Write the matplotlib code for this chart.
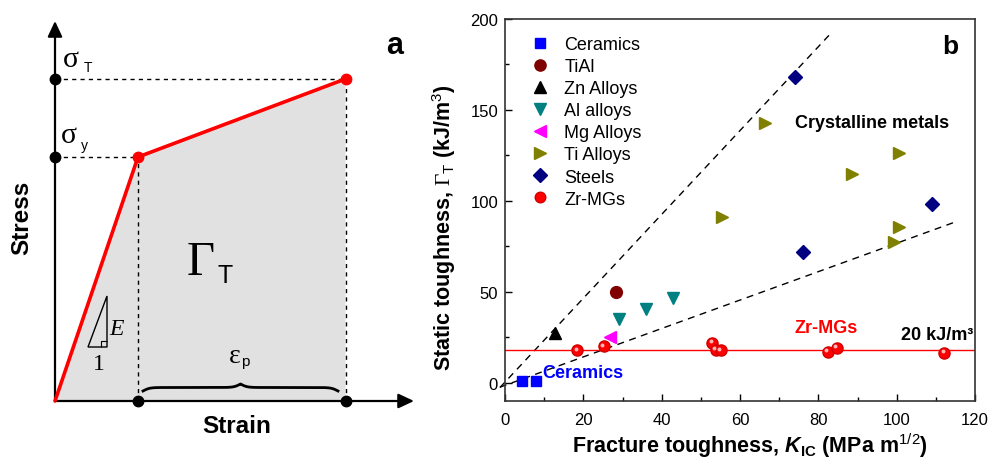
import numpy as np
import matplotlib
matplotlib.use('Agg')
import matplotlib.pyplot as plt
import matplotlib.transforms as mtransforms
from matplotlib.patches import Polygon

plt.rcParams['font.family'] = ['Liberation Sans', 'DejaVu Sans']
plt.rcParams['mathtext.fontset'] = 'custom'
plt.rcParams['mathtext.rm'] = 'Liberation Serif'
plt.rcParams['mathtext.it'] = 'Liberation Sans:italic:bold'
plt.rcParams['mathtext.bf'] = 'Liberation Sans:bold'
plt.rcParams['mathtext.sf'] = 'Liberation Sans'

# ---------------- Panel a: schematic stress-strain curve ----------------
strain = [0.0, 1.0, 3.5]
stress = [0.0, 1.0, 1.32]

# ---------------- Panel b data ----------------
ceramics_k = [4.3, 7.8]
ceramics_g = [1.0, 1.0]
tial_k = [28.3]
tial_g = [50.0]
zn_k = [12.8]
zn_g = [27.5]
al_k = [29.1, 36.0, 43.0]
al_g = [35.2, 40.7, 46.5]
mg_k = [26.8]
mg_g = [25.1]
ti_k = [55.3, 66.4, 88.5, 100.6, 100.6, 99.3]
ti_g = [91.0, 143.0, 115.0, 126.5, 85.5, 77.5]
steel_k = [74.0, 76.0, 109.1]
steel_g = [168.0, 71.8, 98.4]
zr_k = [18.5, 25.3, 52.9, 53.9, 55.1, 82.5, 84.7, 112.2]
zr_g = [17.8, 20.0, 21.8, 18.1, 17.8, 17.2, 19.2, 16.5]
zr_level = 18.3
upper_k = [-1.3, 83.4]
upper_g = [-2.6, 192.6]
lower_k = [-1.3, 115.7]
lower_g = [-2.4, 89.0]
x_ticks = [0, 20, 40, 60, 80, 100, 120]
y_ticks = [0, 50, 100, 150, 200]

W, H = 992, 464
fig = plt.figure(figsize=(W / 100, H / 100), dpi=100)

# ---- left schematic axes (pixel-like helper mapping) ----
X0, Y0, SX, SY = 55.0, 402.0, 83.0, 244.0
def px(x):
    return (x - X0) / SX
def py(y):
    return (Y0 - y) / SY

axa = fig.add_axes([0, 0, 420 / W, 1])
axa.set_xlim(px(0), px(420))
axa.set_ylim(py(464), py(0))
axa.axis('off')

# gray area
poly = Polygon([[strain[0], stress[0]], [strain[1], stress[1]], [strain[2], stress[2]], [strain[2], 0]],
               closed=True, facecolor='#e1e1e1', edgecolor='none', zorder=1)
axa.add_patch(poly)

# dashed guide lines
dkw = dict(color='black', lw=1.0, ls=(0, (3, 3)), zorder=2)
axa.plot([0, strain[2]], [stress[2], stress[2]], **dkw)
axa.plot([0, strain[1]], [stress[1], stress[1]], **dkw)
axa.plot([strain[1], strain[1]], [0, stress[1]], **dkw)
axa.plot([strain[2], strain[2]], [0, stress[2]], **dkw)

# axes arrows
akw = dict(arrowstyle='-|>,head_length=0.47,head_width=0.22', mutation_scale=20, lw=1.6,
           color='black', shrinkA=0, shrinkB=0)
axa.annotate('', xy=(px(414), 0), xytext=(0, 0), arrowprops=akw, zorder=3)
axa.annotate('', xy=(0, py(22)), xytext=(0, 0), arrowprops=akw, zorder=3)

# red curve
axa.plot(strain, stress, color='#ff0000', lw=2.6, zorder=4, solid_capstyle='round')
axa.plot(strain[1:], stress[1:], 'o', color='#ff0000', ms=7.5, zorder=5)
# black dots
axa.plot([0, 0, strain[1], strain[2]], [stress[2], stress[1], 0, 0], 'o', color='black', ms=7.5,
         zorder=6, clip_on=False)

# symbols
axa.text(px(63), py(67), 'σ', family='Liberation Serif', fontsize=21.5, va='baseline', ha='left')
axa.text(px(83.5), py(72), 'T', fontsize=10, va='baseline', ha='left')
axa.text(px(61), py(143), 'σ', family='Liberation Serif', fontsize=21.5, va='baseline', ha='left')
axa.text(px(81), py(150), 'y', fontsize=10, va='baseline', ha='left')
axa.text(px(187), py(275), 'Γ', family='Liberation Serif', fontsize=35, va='baseline', ha='left')
axa.text(px(218), py(283), 'T', fontsize=18, va='baseline', ha='left')
axa.text(px(229), py(363), 'ε', family='Liberation Serif', fontsize=20, va='baseline', ha='left')
axa.text(px(241.5), py(366), 'p', fontsize=11, va='baseline', ha='left')
axa.text(px(109), py(335), 'E', family='Liberation Serif', style='italic', fontsize=17,
         va='baseline', ha='left')
axa.text(px(98.5), py(370), '1', family='Liberation Serif', fontsize=17, va='baseline', ha='center')

# slope triangle
tri = Polygon([[px(88), py(348)], [px(107), py(348)], [px(107), py(297)]], closed=True,
              fill=False, edgecolor='black', lw=1.0, zorder=6)
axa.add_patch(tri)
sq = Polygon([[px(100.5), py(348)], [px(100.5), py(341.5)], [px(107), py(341.5)]], closed=False,
             fill=False, edgecolor='black', lw=0.8, zorder=6)
axa.add_patch(sq)

# curly brace
def brace_curve(x0, x1, ybase, height, n=401):
    t = np.linspace(0, 1, n)
    half = t[: n // 2 + 1]
    beta = 60.0
    yh = 1 / (1 + np.exp(-beta * (half - half[0]))) + 1 / (1 + np.exp(-beta * (half - half[-1])))
    yy = np.concatenate((yh, yh[-2::-1]))
    xs = x0 + t * (x1 - x0)
    return xs, ybase + (yy - 0.5) * height
bx, by = brace_curve(px(143), px(338), py(392), py(385) - py(392))
axa.plot(bx, by, color='black', lw=2.0, zorder=6)

axa.text(px(22), py(218), 'Stress', rotation=90, fontsize=17.5, fontweight='bold',
         ha='center', va='center')
axa.text(px(237), py(427), 'Strain', fontsize=17.5, fontweight='bold', ha='center', va='center')
axa.text(px(395), py(46), 'a', fontsize=22, fontweight='bold', ha='center', va='center')

# ---------------- Panel b ----------------
ax = fig.add_axes([505 / W, 1 - 402 / H, 470 / W, 382 / H])
ax.set_xlim(0, 120)
ax.set_ylim(-10, 200)
ax.set_xticks(x_ticks)
ax.set_yticks(y_ticks)
ax.set_xticks(np.arange(0, 121, 10), minor=True)
ax.set_yticks(np.arange(0, 201, 25), minor=True)
ax.tick_params(which='both', direction='in', top=False, right=False, labelsize=12, width=1.0)
ax.tick_params(which='major', length=5)
ax.tick_params(which='minor', length=3)
ax.tick_params(axis='x', pad=8)
ax.tick_params(axis='y', pad=5)
for s in ax.spines.values():
    s.set_linewidth(1.2)
    s.set_color('#333333')

ax.plot(upper_k, upper_g, color='black', lw=1.0, ls=(0, (5, 4)), clip_on=False, zorder=2)
ax.plot(lower_k, lower_g, color='black', lw=1.0, ls=(0, (5, 4)), clip_on=False, zorder=2)
ax.axhline(zr_level, color='#ff0000', lw=1.0, zorder=2)

h1, = ax.plot(ceramics_k, ceramics_g, 's', color='#0000ff', ms=7.5, ls='none', label='Ceramics',
              clip_on=False, zorder=4)
h2, = ax.plot(tial_k, tial_g, 'o', color='#800000', ms=8.5, ls='none', label='TiAl', zorder=4)
h3, = ax.plot(zn_k, zn_g, '^', color='black', ms=9, ls='none', label='Zn Alloys', zorder=4)
h4, = ax.plot(al_k, al_g, 'v', color='#008080', ms=9, ls='none', label='Al alloys', zorder=4)
h5, = ax.plot(mg_k, mg_g, '<', color='#ff00ff', ms=9, ls='none', label='Mg Alloys', zorder=4)
h6, = ax.plot(ti_k, ti_g, '>', color='#808000', ms=9, ls='none', label='Ti Alloys', zorder=4)
h7, = ax.plot(steel_k, steel_g, 'D', color='#000080', ms=7, ls='none', label='Steels', zorder=4)
h8, = ax.plot(zr_k, zr_g, 'o', color='#ff0000', mec='#d00000', ms=8, ls='none', label='Zr-MGs',
              zorder=5)
hl_tr = mtransforms.offset_copy(ax.transData, fig=fig, x=-1.2, y=1.2, units='points')
ax.plot(zr_k, zr_g, 'o', color='#ffb8b8', ms=2.8, mew=0, ls='none', transform=hl_tr, zorder=6)

leg = ax.legend(handles=[h1, h2, h3, h4, h5, h6, h7, h8], loc='upper left',
                bbox_to_anchor=(0.055, 0.955), frameon=False, fontsize=13, handlelength=1.0,
                handletextpad=0.85, labelspacing=0.28, borderpad=0, borderaxespad=0,
                markerscale=0.95)

ax.text(9.4, 5.7, 'Ceramics', color='#0000ff', fontsize=13, fontweight='bold',
        ha='left', va='center')
ax.text(82.0, 30.4, 'Zr-MGs', color='#ff0000', fontsize=13, fontweight='bold',
        ha='center', va='center')
ax.text(119.5, 26.6, '20 kJ/m³', color='black', fontsize=13, fontweight='bold',
        ha='right', va='center')
ax.text(93.8, 143.0, 'Crystalline metals', color='black', fontsize=13, fontweight='bold',
        ha='center', va='center')
ax.text(113.6, 185.0, 'b', color='black', fontsize=19, fontweight='bold', ha='center', va='center')

ax.set_xlabel('Fracture toughness, $\\mathit{K}_{\\mathbf{IC}}$ (MPa m$^{\\mathsf{1/2}}$)',
              fontsize=15.5, fontweight='bold', va='baseline')
ax.xaxis.set_label_coords(0.521, -0.133)
ax.set_ylabel('Static toughness, $\\Gamma_{\\mathsf{T}}$ (kJ/m$^{\\mathsf{3}}$)',
              fontsize=15.5, fontweight='bold', va='center')
ax.yaxis.set_label_coords(-0.130, 0.458)

fig.savefig('out.png', dpi=100)
